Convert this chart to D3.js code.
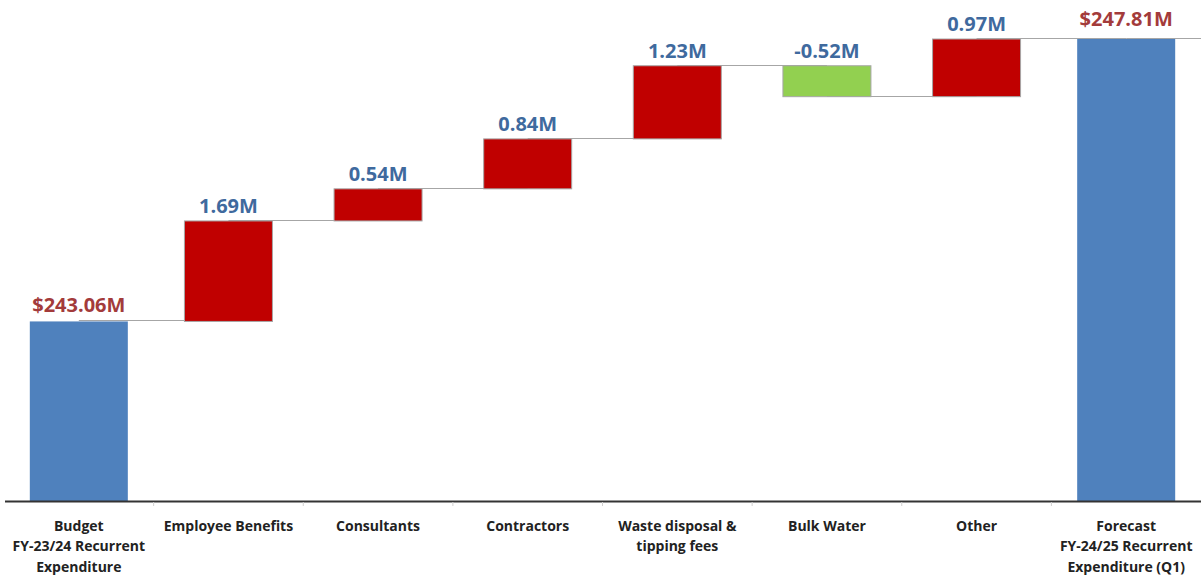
<!DOCTYPE html>
<html>
<head>
<meta charset="utf-8">
<script src="https://cdn.jsdelivr.net/npm/d3@7/dist/d3.min.js"></script>
<style>
  body { margin: 0; background: #fff; }
  svg { display: block; font-family: "Open Sans", "Liberation Sans", sans-serif; }
</style>
</head>
<body>
<div class="chart"></div>
<script>

// data
var categories = [
  "Budget\nFY-23/24 Recurrent\nExpenditure",
  "Employee Benefits",
  "Consultants",
  "Contractors",
  "Waste disposal &\ntipping fees",
  "Bulk Water",
  "Other",
  "Forecast\nFY-24/25 Recurrent\nExpenditure (Q1)"
];
var values = [243.06, 1.69, 0.54, 0.84, 1.23, -0.52, 0.97, 247.81];
var kinds = ["total", "delta", "delta", "delta", "delta", "delta", "delta", "total"];
var valueLabels = ["$243.06M", "1.69M", "0.54M", "0.84M", "1.23M", "-0.52M", "0.97M", "$247.81M"];
var yDomain = [240.04, 248.466];

var width = 1201, height = 578;
var baseY = 501;

// running totals for the waterfall
var rows = [];
var running = 0;
for (var i = 0; i < values.length; i++) {
  var start, end;
  if (kinds[i] === "total") {
    start = yDomain[0];
    end = values[i];
  } else {
    start = running;
    end = running + values[i];
  }
  running = end;
  rows.push({cat: categories[i], kind: kinds[i], value: values[i], label: valueLabels[i], start: start, end: end});
}

var svg = d3.select(".chart")
  .append("svg")
    .attr("width", width)
    .attr("height", height);

var x = d3.scaleBand()
  .domain(categories)
  .range([4, 1201])
  .paddingInner(0.345)
  .paddingOuter(0.1725);

var y = d3.scaleLinear()
  .domain(yDomain)
  .range([baseY, 0]);

function center(d) { return x(d.cat) + x.bandwidth() / 2; }

// connectors (behind bars)
svg.append("g")
  .selectAll("line")
  .data(rows)
  .enter().append("line")
    .attr("x1", function(d) { return center(d); })
    .attr("x2", function(d, i) {
      return i < rows.length - 1 ? center(rows[i + 1]) : width;
    })
    .attr("y1", function(d) { return Math.round(y(d.end)) - 0.5; })
    .attr("y2", function(d) { return Math.round(y(d.end)) - 0.5; })
    .style("stroke", "#a6a6a6")
    .style("stroke-width", 1);

// bars
svg.append("g")
  .selectAll("rect")
  .data(rows)
  .enter().append("rect")
    .attr("x", function(d) { return d.kind === "total" ? x(d.cat) : x(d.cat) + 5; })
    .attr("width", function(d) { return d.kind === "total" ? x.bandwidth() : x.bandwidth() - 10; })
    .attr("y", function(d) { return y(Math.max(d.start, d.end)); })
    .attr("height", function(d) { return Math.abs(y(d.start) - y(d.end)); })
    .style("fill", function(d) {
      if (d.kind === "total") return "#4f81bd";
      return d.value < 0 ? "#92d050" : "#c00000";
    })
    .style("stroke", function(d) { return d.kind === "total" ? "none" : "#a6a6a6"; })
    .style("stroke-width", 1);

// value labels
svg.append("g")
  .selectAll("text")
  .data(rows)
  .enter().append("text")
    .attr("x", function(d) { return center(d); })
    .attr("y", function(d, i) {
      var off = d.kind === "total" ? (i === 0 ? 9 : 13) : 8;
      return y(Math.max(d.start, d.end)) - off;
    })
    .attr("text-anchor", "middle")
    .style("font-size", "20px")
    .style("font-weight", "bold")
    .style("fill", function(d) { return d.kind === "total" ? "#a33b3b" : "#3f6a9e"; })
    .text(function(d) { return d.label; });

// x axis
var axis = svg.append("g")
  .attr("transform", "translate(0," + baseY + ")")
  .call(d3.axisBottom(x).tickSize(0).tickSizeOuter(0).tickFormat(""));

axis.attr("font-family", null).attr("font-size", null);
axis.select(".domain").remove();
axis.append("line")
  .attr("x1", 5)
  .attr("x2", width)
  .attr("y1", 0.5)
  .attr("y2", 0.5)
  .style("stroke", "#333")
  .style("stroke-width", 2);

// small ticks between categories
axis.selectAll(".sep")
  .data(categories.slice(1))
  .enter().append("line")
    .attr("x1", function(d) { return x(d) - x.step() * x.paddingInner() / 2; })
    .attr("x2", function(d) { return x(d) - x.step() * x.paddingInner() / 2; })
    .attr("y1", 1)
    .attr("y2", 5)
    .style("stroke", "#d0d0d0")
    .style("stroke-width", 1);

axis.selectAll(".tick text").remove();
axis.selectAll(".tick")
  .append("text")
    .attr("text-anchor", "middle")
    .style("font-family", "'Open Sans', sans-serif")
    .style("font-size", "14px")
    .style("font-weight", "bold")
    .style("fill", "#222")
    .each(function(d) {
      var lines = d.split("\n");
      var t = d3.select(this);
      for (var j = 0; j < lines.length; j++) {
        t.append("tspan")
          .attr("x", 0)
          .attr("y", 29.5 + j * 20.5)
          .text(lines[j]);
      }
    });

</script>
</body>
</html>
